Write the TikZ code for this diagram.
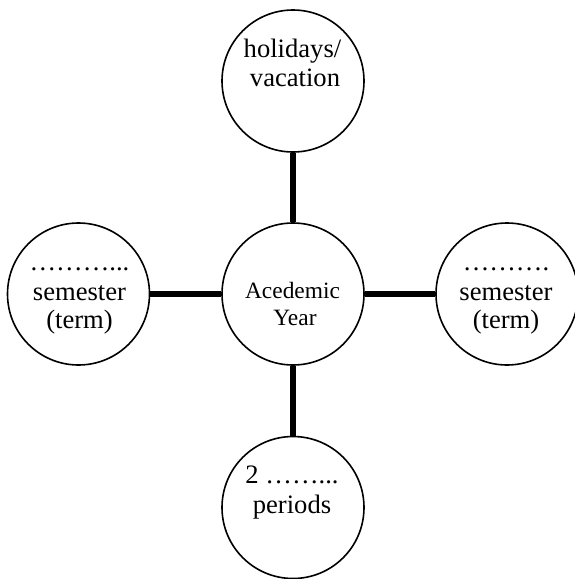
\documentclass[tikz,border=0pt]{standalone}
\usepackage{fontspec}
\setmainfont{Liberation Serif}
\begin{document}
\begin{tikzpicture}[x=1pt,y=-1pt,
  bubble/.style={draw=black,line width=1.6pt,circle,minimum size=142pt,inner sep=0pt,fill=white},
  conn/.style={draw=black,line width=5.5pt},
  txt/.style={anchor=base,inner sep=0pt,font=\fontsize{26.6}{29}\selectfont},
  ctxt/.style={anchor=base,inner sep=0pt,font=\fontsize{23.4}{27}\selectfont}]
\useasboundingbox[fill=white] (0,0) rectangle (575,579);
\node[bubble] (c) at (293,294) {};
\node[bubble] (top) at (293,81) {};
\node[bubble] (left) at (78.5,294) {};
\node[bubble] (right) at (507,294) {};
\node[bubble] (bot) at (293,507.5) {};
\draw[conn] (top) -- (c);
\draw[conn] (c) -- (bot);
\draw[conn] (left) -- (c);
\draw[conn] (c) -- (right);
% texts
\node[txt] (t1) at (292.5,57) {holidays/};
\node[txt] (t2) at (295,86) {vacation};
\node[ctxt] (c1) at (292.5,298) {Acedemic};
\node[ctxt] (c2) at (295,325) {Year};
\node[txt] (l1) at (79.5,270) {………...};
\node[txt] (l2) at (79.5,300) {semester};
\node[txt] (l3) at (79.5,328) {(term)};
\node[txt] (r1) at (506,270) {……….};
\node[txt] (r2) at (506,300) {semester};
\node[txt] (r3) at (506,328) {(term)};
\node[txt] (b1) at (292,483) {2 ……...};
\node[txt] (b2) at (292,513) {periods};
\end{tikzpicture}
\end{document}
